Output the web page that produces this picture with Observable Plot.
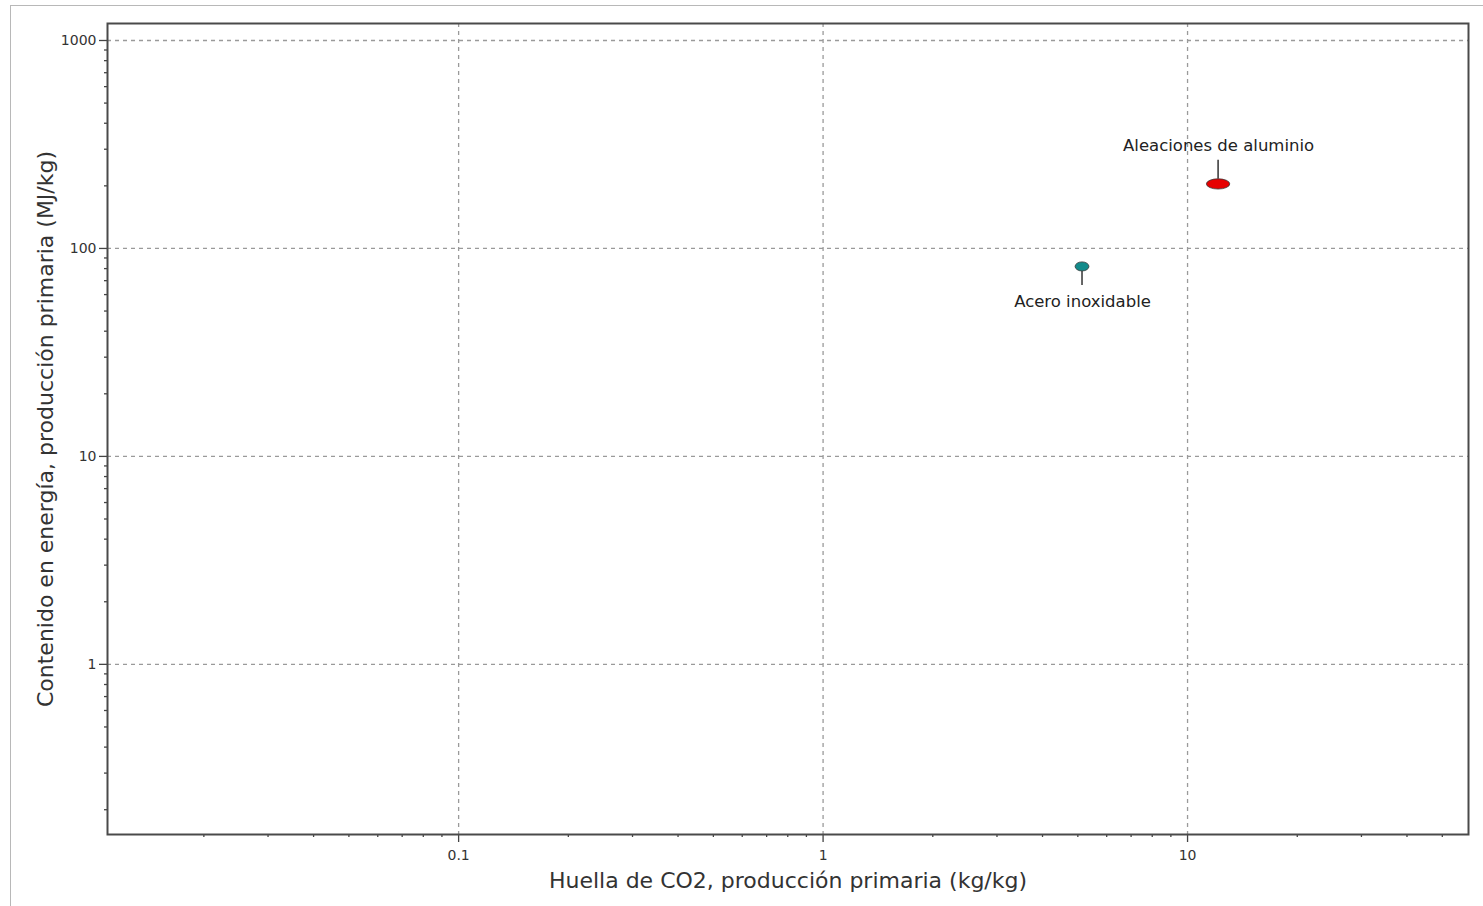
<!DOCTYPE html>
<html>
<head>
<meta charset="utf-8">
<script src="https://cdn.jsdelivr.net/npm/d3@7"></script>
<script src="https://cdn.jsdelivr.net/npm/@observablehq/plot@0.6"></script>
<style>
  html, body { margin: 0; padding: 0; background: #fff; overflow: hidden; }
  #wrap { position: relative; width: 1483px; height: 906px; }
  #border { position: absolute; left: 10px; top: 5px; width: 1490px; height: 910px; border: 1px solid #b8b8b8; box-sizing: border-box; }
  #chart { position: absolute; left: 0; top: 0; }
</style>
</head>
<body>
<div id="wrap"><div id="border"></div><div id="chart"></div></div>
<script>
// ---- data ----
const materials = ["Aleaciones de aluminio", "Acero inoxidable"];
const co2Low = [11.3, 4.93];      // kg/kg
const co2High = [13.1, 5.38];
const energyLow = [192, 77.5];    // MJ/kg
const energyHigh = [215, 85.7];
const fillColors = ["#e60000", "#138b8b"];
const labelSide = ["above", "below"];

const xMajor = [0.1, 1, 10];
const yMajor = [1, 10, 100, 1000];
const xTitle = "Huella de CO2, producción primaria (kg/kg)";
const yTitle = "Contenido en energía, producción primaria (MJ/kg)";

// ---- derived table ----
const table = materials.map((m, i) => ({
  name: m,
  xlo: co2Low[i], xhi: co2High[i],
  ylo: energyLow[i], yhi: energyHigh[i],
  xc: Math.sqrt(co2Low[i] * co2High[i]),
  yc: Math.sqrt(energyLow[i] * energyHigh[i]),
  fill: fillColors[i],
  side: labelSide[i]
}));

const xDomain = [0.01088, 59];
const yDomain = [0.152, 1207];

function minorTicks(domain) {
  const out = [];
  for (let e = Math.floor(Math.log10(domain[0])); e <= Math.ceil(Math.log10(domain[1])); e++) {
    for (let k = 2; k <= 9; k++) {
      const v = k * Math.pow(10, e);
      if (v > domain[0] && v < domain[1]) out.push(v);
    }
  }
  return out;
}

function ellipses(index, scales) {
  const {x, y} = scales;
  const g = d3.create("svg:g").attr("aria-label", "ellipses");
  for (const d of table) {
    const x1 = x(d.xlo), x2 = x(d.xhi), y1 = y(d.yhi), y2 = y(d.ylo);
    const cx = (x1 + x2) / 2, cy = (y1 + y2) / 2;
    const rx = Math.abs(x2 - x1) / 2, ry = Math.abs(y2 - y1) / 2;
    const sx = x(d.xc);
    if (d.side === "above") {
      g.append("line").attr("x1", sx).attr("x2", sx).attr("y1", cy - ry).attr("y2", cy - ry - 19)
        .attr("stroke", "#333").attr("stroke-width", 1.5);
    } else {
      g.append("line").attr("x1", sx).attr("x2", sx).attr("y1", cy + ry).attr("y2", cy + ry + 14)
        .attr("stroke", "#333").attr("stroke-width", 1.5);
    }
    g.append("ellipse").attr("cx", cx).attr("cy", cy).attr("rx", rx).attr("ry", ry)
      .attr("fill", d.fill).attr("stroke", "#3a3a3a").attr("stroke-width", 0.8);
  }
  return g.node();
}

const chart = Plot.plot({
  width: 1483,
  height: 906,
  marginLeft: 107,
  marginTop: 23,
  marginRight: 15,
  marginBottom: 72,
  style: {fontFamily: "DejaVu Sans", color: "#333", background: "transparent"},
  x: {type: "log", domain: xDomain},
  y: {type: "log", domain: yDomain},
  marks: [
    Plot.gridX(xMajor, {stroke: "#9a9a9a", strokeOpacity: 1, strokeWidth: 1.3, strokeDasharray: "4,4"}),
    Plot.gridY(yMajor, {stroke: "#9a9a9a", strokeOpacity: 1, strokeWidth: 1.3, strokeDasharray: "4,4"}),
    Plot.axisX(minorTicks(xDomain), {tickSize: 3, text: null, label: null, stroke: "#444", strokeWidth: 1.3}),
    Plot.axisY(minorTicks(yDomain), {tickSize: 3, text: null, label: null, stroke: "#444", strokeWidth: 1.3}),
    Plot.axisX(xMajor, {tickSize: 8, tickPadding: 8, tickFormat: d => String(d), fontSize: 14, label: null, stroke: "#444", strokeWidth: 1.3, fill: "#333"}),
    Plot.axisY(yMajor, {tickSize: 8, tickPadding: 3, tickFormat: d => String(d), fontSize: 14, label: null, stroke: "#444", strokeWidth: 1.3, fill: "#333"}),
    Plot.frame({stroke: "#4a4a4a", strokeWidth: 2}),
    ellipses,
    Plot.text(table.filter(d => d.side === "above"), {x: "xc", y: "yc", text: "name", dy: -39, fontSize: 16.5, fill: "#222"}),
    Plot.text(table.filter(d => d.side === "below"), {x: "xc", y: "yc", text: "name", dy: 34.5, fontSize: 16.5, fill: "#222"}),
    Plot.text([xTitle], {frameAnchor: "bottom", text: d => d, dy: 46, lineAnchor: "middle", textAnchor: "middle", fontSize: 22, fill: "#333"}),
    Plot.text([yTitle], {frameAnchor: "left", text: d => d, dx: -62, rotate: -90, lineAnchor: "middle", textAnchor: "middle", fontSize: 22, fill: "#333"})
  ]
});
document.getElementById("chart").appendChild(chart);
</script>
</body>
</html>
